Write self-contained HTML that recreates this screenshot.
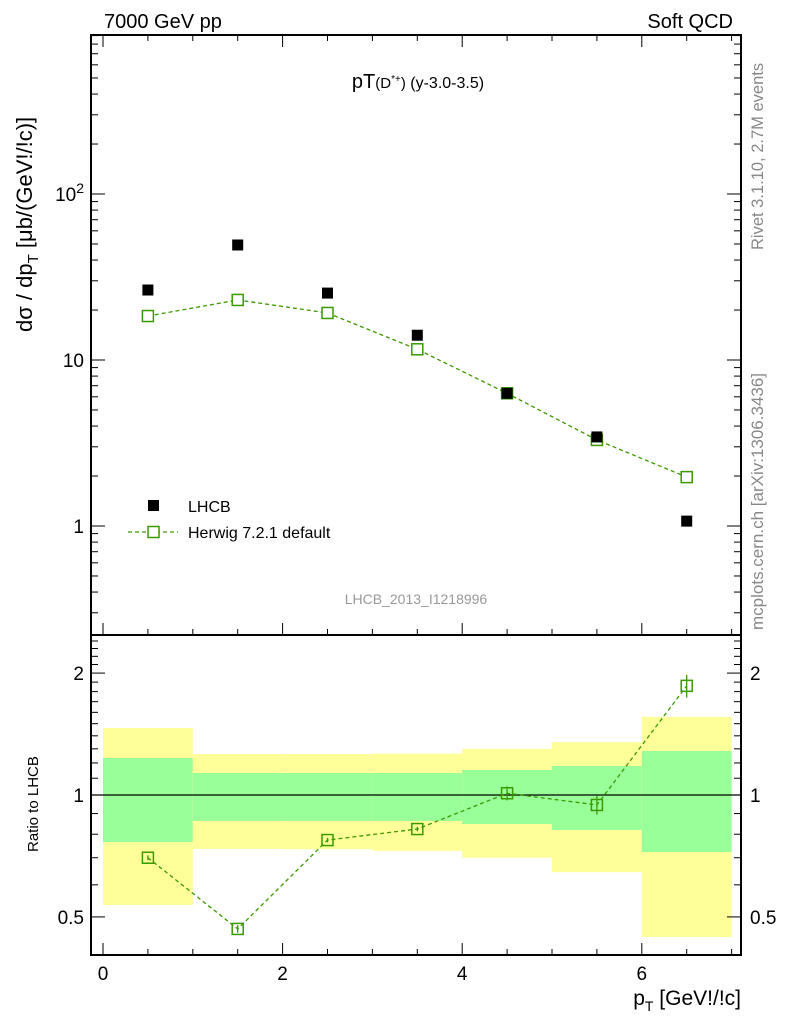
<!DOCTYPE html>
<html><head><meta charset="utf-8"><style>
html,body{margin:0;padding:0;background:#fff;}
svg{display:block;font-family:"Liberation Sans",sans-serif;}
</style></head><body>
<svg id="chart" width="786" height="1024" viewBox="0 0 786 1024" xmlns="http://www.w3.org/2000/svg">
<text x="104" y="28" font-size="20">7000 GeV pp</text>
<text x="733" y="28" font-size="20" text-anchor="end">Soft QCD</text>
<text x="418" y="88" font-size="20" text-anchor="middle">pT<tspan font-size="15">(D</tspan><tspan font-size="10" dy="-6">*+</tspan><tspan font-size="15" dy="6">)</tspan><tspan font-size="16"> (y-3.0-3.5)</tspan></text>
<text transform="translate(32,332) rotate(-90)" font-size="22" text-anchor="start">dσ / dp<tspan font-size="15" dy="6">T</tspan><tspan dy="-6"> [μb/(GeV!/!c)]</tspan></text>
<text transform="translate(763,250) rotate(-90)" font-size="16.5" fill="#888">Rivet 3.1.10,  2.7M events</text>
<text transform="translate(763,630) rotate(-90)" font-size="17" fill="#888">mcplots.cern.ch [arXiv:1306.3436]</text>
<text x="416" y="604" font-size="14" fill="#999" text-anchor="middle">LHCB_2013_I1218996</text>
<text transform="translate(38,852) rotate(-90)" font-size="15">Ratio to LHCB</text>
<text x="741" y="1005" font-size="21" text-anchor="end">p<tspan font-size="14" dy="6">T</tspan><tspan dy="-6"> [GeV!/!c]</tspan></text>
<g id="g"></g>
</svg>
<script>
const xEdges=[0,1,2,3,4,5,6,7];
const xCenters=[0.5,1.5,2.5,3.5,4.5,5.5,6.5];
const lhcbValues=[26.4,49.3,25.3,14.1,6.3,3.44,1.07];
const herwigValues=[18.4,23.0,19.2,11.6,6.3,3.3,1.97];
const ratioValues=[0.70,0.467,0.774,0.824,1.01,0.945,1.86];
const ratioErr=[0.01,0.01,0.01,0.01,0.04,0.05,0.12];
const greenHi=[1.234,1.133,1.133,1.133,1.153,1.179,1.284];
const greenLo=[0.765,0.863,0.863,0.863,0.848,0.82,0.723];
const yellowHi=[1.464,1.262,1.262,1.265,1.30,1.35,1.56];
const yellowLo=[0.535,0.736,0.735,0.728,0.70,0.645,0.446];
const xTicks=[0,2,4,6];
const mainTicks=[1,10];
const mainTickLabels=["1","10"];
const ratioTicks=[0.5,1,2];
const ratioTickLabels=["0.5","1","2"];

const L=91,R=741,T=35,M=635,B=955;
const X=v=>103+v*89.8;
const Y=v=>526-Math.log10(v)*166;
const YR=v=>795-Math.log10(v)*405;
const g=document.getElementById('g');
const NS='http://www.w3.org/2000/svg';
function mk(t,a,p){const e=document.createElementNS(NS,t);for(const k in a)e.setAttribute(k,a[k]);(p||g).appendChild(e);return e;}

for(let i=0;i<7;i++){
 const r=mk('rect',{x:X(xEdges[i]),y:YR(yellowHi[i]),width:X(xEdges[i+1])-X(xEdges[i]),height:YR(yellowLo[i])-YR(yellowHi[i]),fill:'#ffff99'});
 
 const q=mk('rect',{x:X(xEdges[i]),y:YR(greenHi[i]),width:X(xEdges[i+1])-X(xEdges[i]),height:YR(greenLo[i])-YR(greenHi[i]),fill:'#99ff99'});
 
}
const one=mk('line',{x1:L,x2:R,y1:YR(1),y2:YR(1),stroke:'#000','stroke-width':1.2});


for(const [y1,y2,n] of [[T,M,'main-frame'],[M,B,'ratio-frame']]){
 const f=mk('rect',{x:L,y:y1,width:R-L,height:y2-y1,fill:'none',stroke:'#000','stroke-width':2});
 
}
for(let v=0;v<=7.01;v+=0.5){
 const major=Math.abs(v%2)<0.01;const len=major?12:6;
 for(const yb of [M,B]) mk('line',{x1:X(v),x2:X(v),y1:yb,y2:yb-len,stroke:'#000','stroke-width':1});
 mk('line',{x1:X(v),x2:X(v),y1:T,y2:T+len,stroke:'#000','stroke-width':1});
}
xTicks.forEach(v=>{const t=mk('text',{x:X(v),y:980,'font-size':19,'text-anchor':'middle'});t.textContent=v;
 });
for(let d=-1;d<=2;d++)for(let m=1;m<=9;m++){
 const v=m*Math.pow(10,d);const y=Y(v);if(y<T||y>M)continue;
 const len=m==1?14:7;
 mk('line',{x1:L,x2:L+len,y1:y,y2:y,stroke:'#000'});mk('line',{x1:R,x2:R-len,y1:y,y2:y,stroke:'#000'});
}
mainTicks.forEach((v,i)=>{const t=mk('text',{x:84,y:Y(v)+7,'font-size':19,'text-anchor':'end'});t.textContent=mainTickLabels[i];
 });
const hundred=mk('text',{x:84,y:Y(100)+7,'font-size':19,'text-anchor':'end'});


hundred.innerHTML='10<tspan font-size="14" dy="-8">2</tspan>';
for(let v=0.4;v<=2.5;v+=0.1){
 const y=YR(v);if(y<M||y>B)continue;
 const major=ratioTicks.some(t=>Math.abs(t-v)<0.01);const len=major?14:7;
 mk('line',{x1:L,x2:L+len,y1:y,y2:y,stroke:'#000'});mk('line',{x1:R,x2:R-len,y1:y,y2:y,stroke:'#000'});
}
ratioTicks.forEach((v,i)=>{
 const t=mk('text',{x:84,y:YR(v)+7,'font-size':19,'text-anchor':'end'});t.textContent=ratioTickLabels[i];
 
 const t2=mk('text',{x:750,y:YR(v)+7,'font-size':19});t2.textContent=ratioTickLabels[i];
 
});
const hl=mk('polyline',{points:xCenters.map((x,i)=>X(x)+','+Y(herwigValues[i])).join(' '),fill:'none',stroke:'#3a9a00','stroke-width':1.3,'stroke-dasharray':'4,3'});

xCenters.forEach((x,i)=>{
 const m=mk('rect',{x:X(x)-5.5,y:Y(herwigValues[i])-5.5,width:11,height:11,fill:'#fff',stroke:'#3a9a00','stroke-width':1.5});
 
 const d=mk('rect',{x:X(x)-5.5,y:Y(lhcbValues[i])-5.5,width:11,height:11,fill:'#000'});
 
});
const rl=mk('polyline',{points:xCenters.map((x,i)=>X(x)+','+YR(ratioValues[i])).join(' '),fill:'none',stroke:'#3a9a00','stroke-width':1.3,'stroke-dasharray':'4,3'});

xCenters.forEach((x,i)=>{
 const e=mk('line',{x1:X(x),x2:X(x),y1:YR(ratioValues[i]+ratioErr[i]),y2:YR(ratioValues[i]-ratioErr[i]),stroke:'#3a9a00','stroke-width':1.3});
 
 const m=mk('rect',{x:X(x)-5.5,y:YR(ratioValues[i])-5.5,width:11,height:11,fill:'none',stroke:'#3a9a00','stroke-width':1.5});
 
});
const lg=mk('g',{});

mk('rect',{x:148,y:500,width:11,height:11,fill:'#000'},lg);
const t1=mk('text',{x:188,y:512,'font-size':16},lg);t1.textContent='LHCB';
mk('line',{x1:128,x2:178,y1:532,y2:532,stroke:'#3a9a00','stroke-width':1.3,'stroke-dasharray':'4,3'},lg);
mk('rect',{x:148,y:526.5,width:11,height:11,fill:'#fff',stroke:'#3a9a00','stroke-width':1.5},lg);
const t2=mk('text',{x:188,y:538,'font-size':16},lg);t2.textContent='Herwig 7.2.1 default';
</script>
</body></html>
